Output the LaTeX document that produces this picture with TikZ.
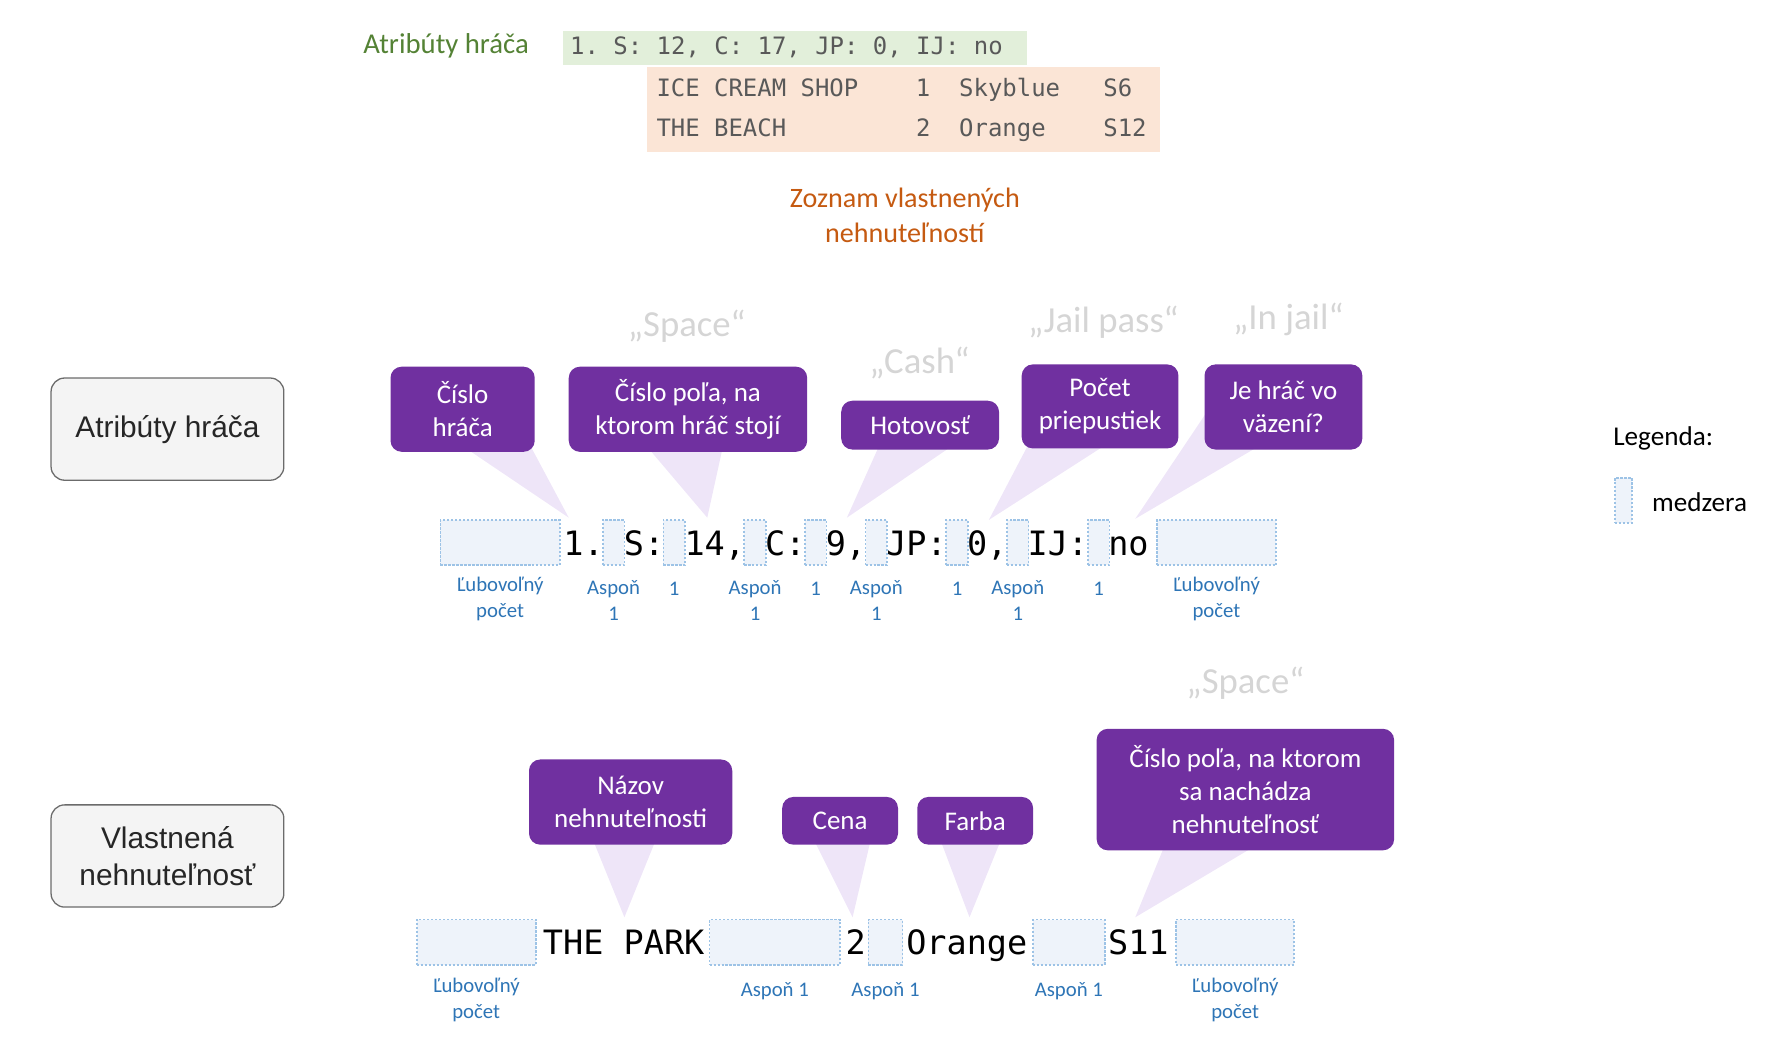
\documentclass[tikz,border=0pt]{standalone}
\usepackage{fontspec}
\setmainfont{Carlito}
\setmonofont{DejaVu Sans Mono}
\newfontfamily\arialfont{Liberation Sans}
\usetikzlibrary{positioning,calc}
\pgfdeclarelayer{bg}
\pgfsetlayers{bg,main}

\definecolor{purp}{HTML}{7030A0}
\definecolor{tailpurp}{HTML}{EEE5F8}
\definecolor{titlegreen}{HTML}{548235}
\definecolor{greenbox}{HTML}{E2EFDA}
\definecolor{orangebox}{HTML}{FBE5D6}
\definecolor{orangetext}{HTML}{C55A11}
\definecolor{codegray}{HTML}{595959}
\definecolor{quotegray}{HTML}{D5D5D5}
\definecolor{lblblue}{HTML}{2E75B6}
\definecolor{gapfill}{HTML}{EEF3FA}
\definecolor{gapline}{HTML}{9DC3E6}
\definecolor{sidefill}{HTML}{F4F4F4}
\definecolor{sideline}{HTML}{6B6B6B}
\definecolor{sidetext}{HTML}{262626}

\newcommand{\pxu}{0.7113pt}

\tikzset{
  callout/.style={fill=purp, text=white, rounded corners=7pt, align=center,
    inner sep=0pt, font=\fontsize{16.9}{20.6}\selectfont},
  tail/.style={fill=tailpurp},
  gap/.style={draw=gapline, fill=gapfill, line width=1.1pt,
    dash pattern=on 1.4pt off 1.1pt, inner sep=0pt, minimum height=40*\pxu},
  lbl/.style={text=lblblue, align=center, inner sep=0pt,
    font=\fontsize{13}{16.4}\selectfont},
  quote/.style={text=quotegray, font=\fontsize{23}{27}\selectfont},
  code/.style={font=\ttfamily\fontsize{21}{25}\selectfont\frenchspacing,
    inner sep=0pt, anchor=base west},
  topcode/.style={font=\ttfamily\fontsize{15}{25.6}\selectfont\frenchspacing,
    text=codegray, align=left, inner sep=0pt, anchor=west},
  sidebox/.style={draw=sideline, fill=sidefill, line width=0.8pt,
    rounded corners=8.5pt, minimum width=205*\pxu, minimum height=90*\pxu,
    align=center, text=sidetext, font=\arialfont\fontsize{18.7}{22.8}\selectfont}
}

\begin{document}
\begin{tikzpicture}[x=0.025cm,y=-0.025cm]
\useasboundingbox (0,0) rectangle (1560,934.6);

% vzor hore
\node (gtitle) [text=titlegreen, font=\fontsize{18}{22}\selectfont] at (393,40) {Atribúty hráča};
\node (gbox) [fill=greenbox, anchor=west, minimum width=408*\pxu, minimum height=30*\pxu] at (496,42) {};
\node (gcode) [topcode] at ($(gbox.west)+(6,0)$) {1. S: 12, C: 17, JP: 0, IJ: no};
\node (obox) [fill=orangebox, anchor=north west, minimum width=451*\pxu, minimum height=75*\pxu] at (570,59) {};
\node (ocode) [topcode] at ($(obox.west)+(8,0)$)
  {ICE CREAM SHOP~~~~1~~Skyblue~~~S6\\THE BEACH~~~~~~~~~2~~Orange~~~~S12};
\node (olist) [text=orangetext, align=center, font=\fontsize{17.6}{22}\selectfont] at (797,190) {Zoznam vlastnených\\nehnuteľností};

\node (ah) [sidebox] at (147.5,378) {Atribúty hráča};
\node (vn) [sidebox] at (147.5,754) {Vlastnená\\nehnuteľnosť};

% atributy hraca
\node (q1) [quote] at (605,287) {„Space“};
\node (q2) [quote] at (810,320) {„Cash“};
\node (q3) [quote] at (972,284) {„Jail pass“};
\node (q4) [quote] at (1135,281) {„In jail“};

\node (c1) [callout, minimum width=127*\pxu, minimum height=75*\pxu] at (407.5,360.5) {Číslo\\hráča};
\node (c2) [callout, minimum width=210*\pxu, minimum height=75*\pxu] at (606,360.5) {Číslo poľa, na\\ktorom hráč stojí};
\node (c3) [callout, minimum width=139*\pxu, minimum height=43*\pxu] at (810.5,374.5) {Hotovosť};
\node (c4) [callout, minimum width=138*\pxu, minimum height=74*\pxu] at (969,358) {Počet\\priepustiek};
\node (c5) [callout, minimum width=139*\pxu, minimum height=75*\pxu] at (1130.5,358.5) {Je hráč vo\\väzení?};

\node (attr) [code] at (496,489) {1. S: 14, C: 9, JP: 0, IJ: no};
\node (gl) [gap, minimum width=105*\pxu] at (440.5,478) {};
\node (gr) [gap, minimum width=105*\pxu] at (1071.5,478) {};
\foreach \k in {2,5,9,12,15,19,22,26}
  \node (g\k) [gap, minimum width=19*\pxu] at ({496+(\k+0.5)*17.8},478) {};

\node (lgl) [lbl, below=6.5pt of gl] {Ľubovoľný\\počet};
\node (lgr) [lbl, below=6.5pt of gr] {Ľubovoľný\\počet};
\foreach \k in {2,9,15,22}
  \node (la\k) [lbl, below=8.5pt of g\k] {Aspoň\\1};
\foreach \k in {5,12,19,26}
  \node (lb\k) [lbl, below=9.5pt of g\k] {1};

\coordinate (t1) at (501,456);
\coordinate (t2) at (623,456);
\coordinate (t3) at (746,456);
\coordinate (t4) at (871,458);
\coordinate (t5) at (1000,457);

% vlastnena nehnutelnost
\node (q5) [quote] at (1097,602) {„Space“};

\node (c6) [callout, minimum width=179*\pxu, minimum height=75*\pxu] at (555.5,706.5) {Názov\\nehnuteľnosti};
\node (c7) [callout, minimum width=102*\pxu, minimum height=42*\pxu] at (740,723) {Cena};
\node (c8) [callout, minimum width=102*\pxu, minimum height=42*\pxu] at (859,723) {Farba};
\node (c9) [callout, minimum width=262*\pxu, minimum height=107*\pxu] at (1097,695.5) {Číslo poľa, na ktorom\\sa nachádza\\nehnuteľnosť};

\node (prop) [code] at (478,841) {THE PARK~~~~~~~2~~Orange~~~~S11};
\node (hl) [gap, minimum width=105*\pxu] at (419.5,830) {};
\node (h1) [gap, minimum width=115*\pxu] at (682.5,830) {};
\node (h2) [gap, minimum width=30*\pxu] at (780,830) {};
\node (h3) [gap, minimum width=63*\pxu] at (941.5,830) {};
\node (hr) [gap, minimum width=104*\pxu] at (1088,830) {};

\node (lhl) [lbl, below=7.5pt of hl] {Ľubovoľný\\počet};
\node (lhr) [lbl, below=7.5pt of hr] {Ľubovoľný\\počet};
\foreach \k in {1,2,3}
  \node (lh\k) [lbl, below=10.5pt of h\k] {Aspoň 1};

\coordinate (t6) at (550,808);
\coordinate (t7) at (751,808);
\coordinate (t8) at (854,808);
\coordinate (t9) at (1000,808);

\begin{pgfonlayer}{bg}
\foreach \c/\l/\r in {1/-48/42.5, 2/-64/38, 3/-28/55, 4/-45.6/57.6, 5/-64.5/37,
                      6/-46.7/35.7, 7/-31.5/30.9, 8/-37/29.5, 9/-51/92}
  \fill[tail] (t\c) -- ($(c\c.center)+(\l,0)$) -- ($(c\c.center)+(\r,0)$) -- cycle;
\end{pgfonlayer}

% legenda
\node (leg) [font=\fontsize{17}{20}\selectfont] at (1465,386) {Legenda:};
\node (legbox) [gap, minimum width=15*\pxu] at (1430,441) {};
\node (legtxt) [anchor=west, inner sep=0pt, font=\fontsize{17}{20}\selectfont] at (1455,442) {medzera};
\end{tikzpicture}
\end{document}
